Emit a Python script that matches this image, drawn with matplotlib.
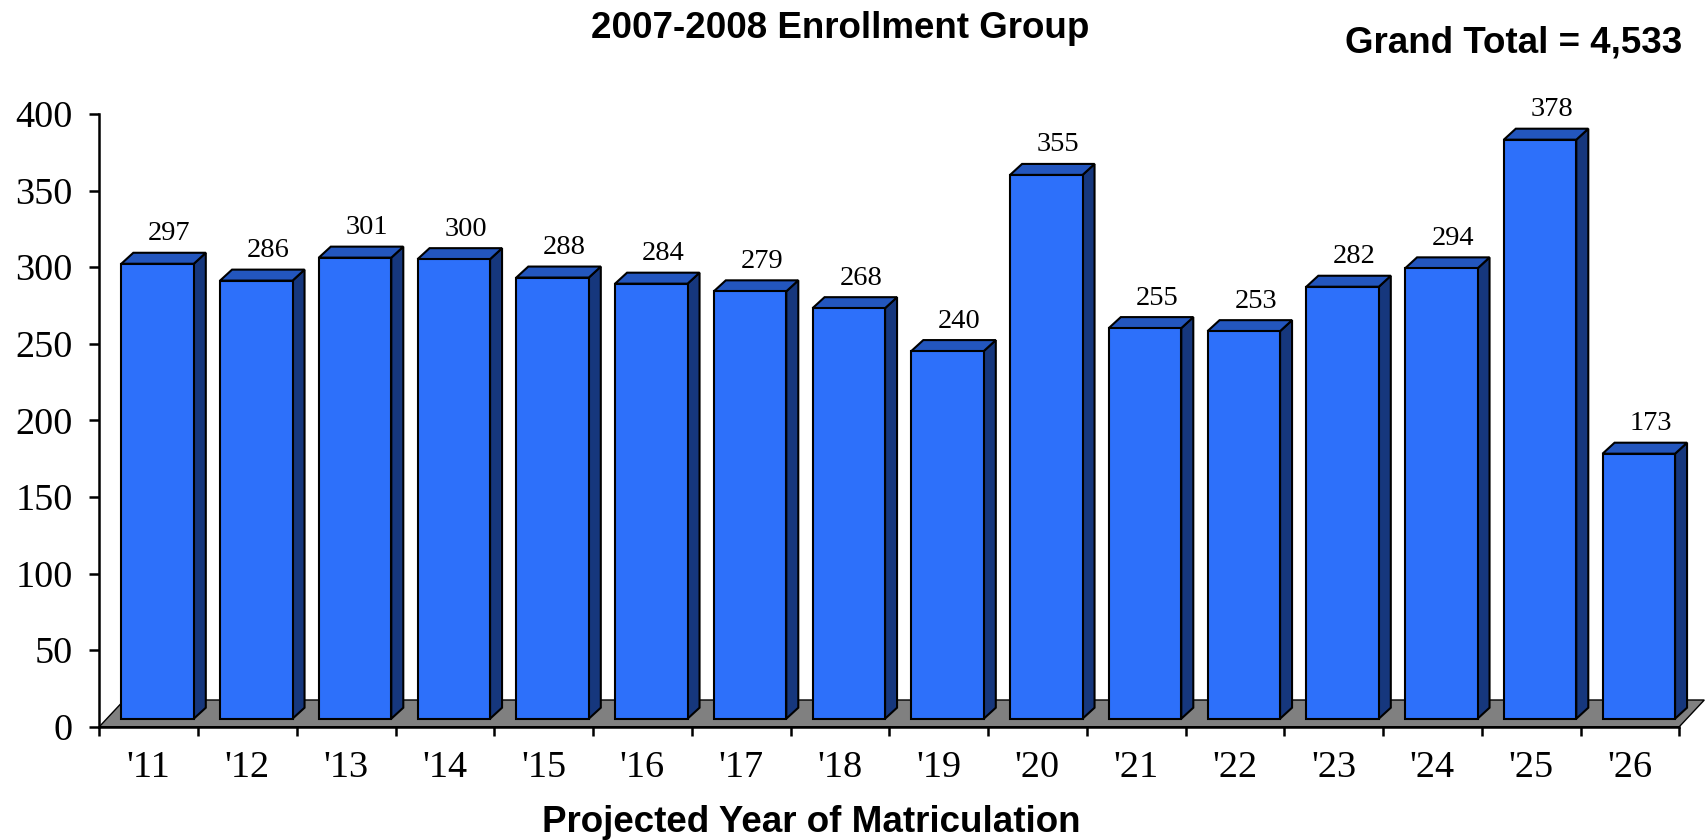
import matplotlib
matplotlib.use("Agg")
import matplotlib.pyplot as plt
from matplotlib.patches import Polygon, Rectangle
import numpy as np

# --- data ---
years = ["'11", "'12", "'13", "'14", "'15", "'16", "'17", "'18",
         "'19", "'20", "'21", "'22", "'23", "'24", "'25", "'26"]
counts = [297, 286, 301, 300, 288, 284, 279, 268,
          240, 355, 255, 253, 282, 294, 378, 173]
grand_total = 4533

title = "2007-2008 Enrollment Group"
xlabel = "Projected Year of Matriculation"

# colours
FRONT = "#2D70FA"
TOP = "#2356BE"
SIDE = "#16377D"
FLOOR = "#808080"

W, H = 1705, 840
fig = plt.figure(figsize=(W / 100, H / 100), dpi=100)

# front plane of the plot, in pixels
left_px, right_px = 99.3, 1679.3
zero_px, top_px = 726.7, 114.0
ax = fig.add_axes([left_px / W, (H - zero_px) / H,
                   (right_px - left_px) / W, (zero_px - top_px) / H])

n = len(counts)
ax.set_xlim(0, n)
ax.set_ylim(0, 400)

# pixel -> data conversion
px_x = (right_px - left_px) / n
px_y = (zero_px - top_px) / 400.0

# floor depth and bar geometry (pixels)
fdx, fdy = 25 / px_x, 26.7 / px_y
bar_off = 22 / px_x
bar_w = 72.5 / px_x
bar_lift = 8 / px_y
ddx, ddy = 12 / px_x, 11 / px_y

floor = Polygon([(0, 0), (n, 0), (n + fdx, fdy), (fdx, fdy)], closed=True,
                facecolor=FLOOR, edgecolor="black", linewidth=1.0,
                clip_on=False, zorder=1)
ax.add_patch(floor)

for i, v in enumerate(counts):
    x0 = i + bar_off
    x1 = x0 + bar_w
    y0 = bar_lift
    y1 = y0 + v
    side = Polygon([(x1, y0), (x1 + ddx, y0 + ddy), (x1 + ddx, y1 + ddy), (x1, y1)],
                   closed=True, facecolor=SIDE, edgecolor="black",
                   linewidth=1.5, clip_on=False, zorder=3)
    top = Polygon([(x0, y1), (x1, y1), (x1 + ddx, y1 + ddy), (x0 + ddx, y1 + ddy)],
                  closed=True, facecolor=TOP, edgecolor="black",
                  linewidth=1.5, clip_on=False, zorder=3)
    front = Rectangle((x0, y0), bar_w, v, facecolor=FRONT, edgecolor="black",
                      linewidth=1.5, clip_on=False, zorder=4)
    ax.add_patch(side)
    ax.add_patch(top)
    ax.add_patch(front)
    ax.text(x0 + bar_w / 2 + 12 / px_x, y1 + 30 / px_y, f"{v}",
            ha="center", va="center", fontsize=20.5,
            family="Liberation Serif", zorder=5)

# axes styling
for s in ("top", "right"):
    ax.spines[s].set_visible(False)
for s in ("left", "bottom"):
    ax.spines[s].set_linewidth(1.8)
    ax.spines[s].set_zorder(6)

ax.set_yticks(np.arange(0, 401, 50))
ax.tick_params(axis="y", direction="out", length=7, width=1.8, pad=12,
               labelsize=27.5)
for lab in ax.get_yticklabels():
    lab.set_family("Liberation Serif")

ax.set_xticks(np.arange(n) + 0.5)
ax.set_xticklabels(years)
ax.set_xticks(np.arange(n + 1), minor=True)
ax.tick_params(axis="x", which="major", length=0, pad=17, labelsize=27.5)
ax.tick_params(axis="x", which="minor", direction="out", length=6.5, width=1.8)
for lab in ax.get_xticklabels():
    lab.set_family("Liberation Serif")

fig.text(840 / W, 1 - 38 / H, title, ha="center", va="baseline",
         fontsize=26.5, weight="bold", family="Liberation Sans")
fig.text(1682 / W, 1 - 52 / H, f"Grand Total = {grand_total:,}", ha="right",
         va="baseline", fontsize=26.5, weight="bold", family="Liberation Sans")
fig.text(811.7 / W, 1 - 831.7 / H, xlabel, ha="center", va="baseline",
         fontsize=26.5, weight="bold", family="Liberation Sans")

fig.savefig("out.png", dpi=100)
